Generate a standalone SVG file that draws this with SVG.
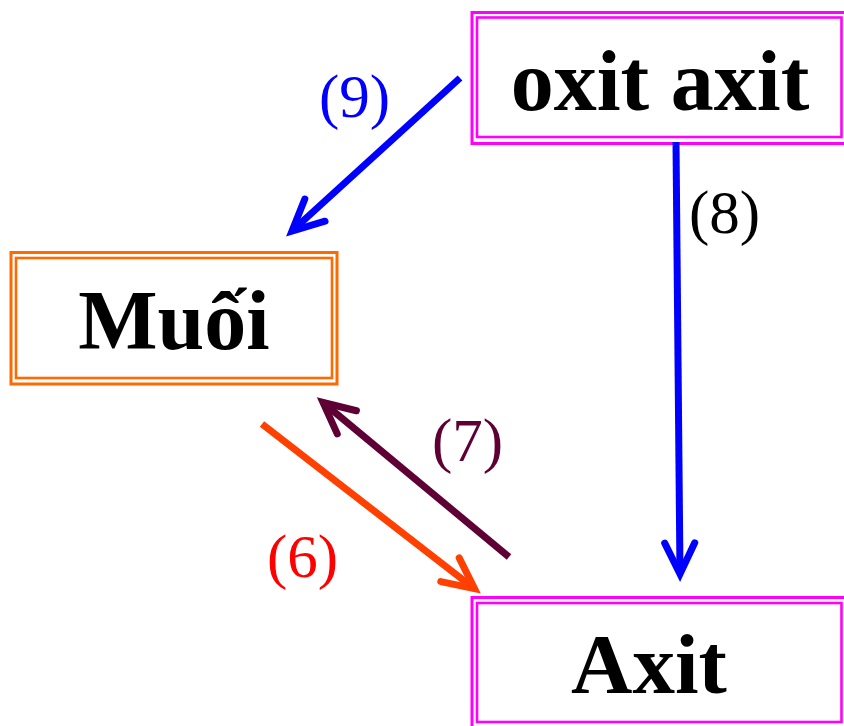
<svg xmlns="http://www.w3.org/2000/svg" width="844" height="726" viewBox="0 0 844 726">
<style>
.box-o{fill:none;stroke-width:3}
.box-i{fill:none;stroke-width:2.6}
.mag{stroke:#FF00FF}
.org{stroke:#FF6A00}
.title{font-family:"Liberation Serif","Times New Roman",serif;font-weight:bold;font-size:86px;fill:#000;text-anchor:middle}
.lbl{font-family:"Liberation Serif","Times New Roman",serif;font-size:61px}
.conn{fill:none;stroke-width:7}
</style>
<defs>
<marker id="hb" markerUnits="userSpaceOnUse" markerWidth="60" markerHeight="60" refX="0" refY="0" orient="auto" overflow="visible" viewBox="-40 -30 60 60">
<path d="M-31,-15 L0,0 L-31,15" fill="none" stroke="#0000FF" stroke-width="7" stroke-linecap="round" stroke-linejoin="miter"/>
</marker>
<marker id="hm" markerUnits="userSpaceOnUse" markerWidth="60" markerHeight="60" refX="0" refY="0" orient="auto" overflow="visible" viewBox="-40 -30 60 60">
<path d="M-31,-15 L0,0 L-31,15" fill="none" stroke="#5E0033" stroke-width="7" stroke-linecap="round" stroke-linejoin="miter"/>
</marker>
<marker id="hr" markerUnits="userSpaceOnUse" markerWidth="60" markerHeight="60" refX="0" refY="0" orient="auto" overflow="visible" viewBox="-40 -30 60 60">
<path d="M-31,-15 L0,0 L-31,15" fill="none" stroke="#FF4000" stroke-width="7" stroke-linecap="round" stroke-linejoin="miter"/>
</marker>
</defs>
<rect width="844" height="726" fill="#fff"/>
<g id="node-oxit-axit">
<rect class="box-o mag" x="472" y="12.5" width="375" height="131"/>
<rect class="box-i mag" x="477" y="17.5" width="364.5" height="119.5"/>
<text class="title" x="660" y="110">oxit axit</text>
</g>
<g id="node-muoi">
<rect class="box-o org" x="11" y="252.5" width="326" height="131.5"/>
<rect class="box-i org" x="16" y="258" width="316" height="120"/>
<text class="title" x="174" y="349" style="font-size:84px">Muối</text>
</g>
<g id="node-axit">
<rect class="box-o mag" x="472" y="597.5" width="375" height="140"/>
<rect class="box-i mag" x="477" y="603" width="364.5" height="119"/>
<text class="title" x="649" y="693" style="font-size:85px">Axit</text>
</g>
<g id="connectors">
<line class="conn" x1="460" y1="78" x2="292" y2="231" stroke="#0000FF" marker-end="url(#hb)"/>
<line class="conn" x1="676" y1="142" x2="680" y2="574" stroke="#0000FF" marker-end="url(#hb)"/>
<line class="conn" x1="509" y1="557" x2="323" y2="402.5" stroke="#5E0033" marker-end="url(#hm)"/>
<line class="conn" x1="262" y1="424" x2="474.5" y2="588.7" stroke="#FF4000" marker-end="url(#hr)"/>
<text class="lbl" x="319" y="117" fill="#0000FF">(9)</text>
<text class="lbl" x="689" y="233" fill="#000">(8)</text>
<text class="lbl" x="432" y="461" fill="#5E0033">(7)</text>
<text class="lbl" x="267" y="577" fill="#FF0000">(6)</text>
</g>
</svg>
